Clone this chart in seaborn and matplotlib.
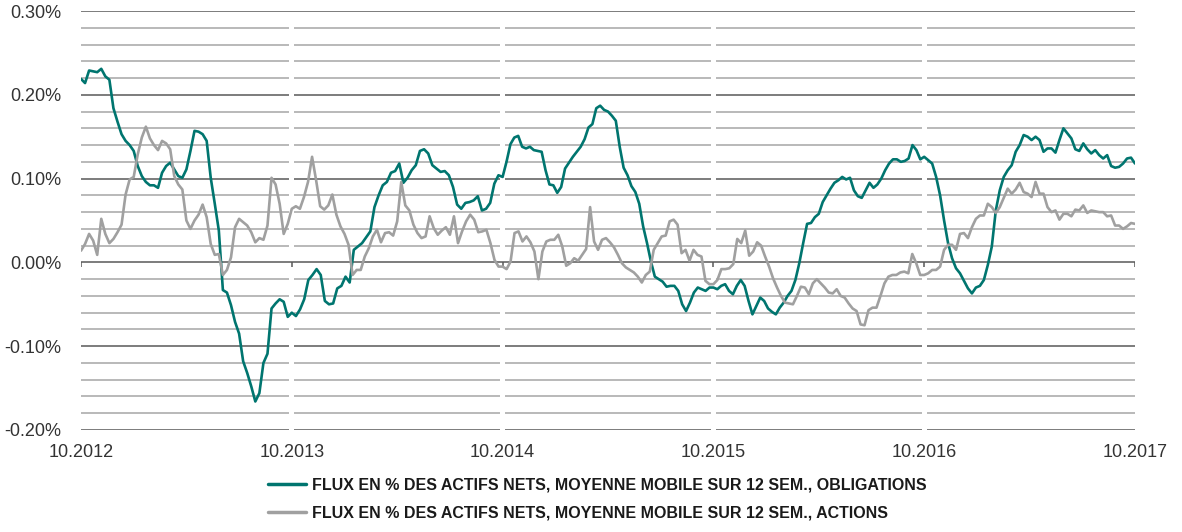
import numpy as np
import pandas as pd
import matplotlib
matplotlib.use("Agg")
import matplotlib.pyplot as plt
import seaborn as sns
from matplotlib.lines import Line2D

# weekly flows, % of net assets, 12-week moving average (one list per year from October)
oblig_y1 = [0.219, 0.214, 0.229, 0.228, 0.227, 0.231, 0.222, 0.218, 0.184, 0.168,
            0.153, 0.145, 0.140, 0.133, 0.115, 0.103, 0.096, 0.092, 0.092, 0.089,
            0.107, 0.115, 0.119, 0.111, 0.103, 0.101, 0.111, 0.133, 0.157, 0.156,
            0.153, 0.145, 0.101, 0.070, 0.038, -0.033, -0.036, -0.051, -0.071, -0.085,
            -0.118, -0.132, -0.148, -0.166, -0.156, -0.120, -0.109, -0.055, -0.049, -0.044,
            -0.047, -0.065]
oblig_y2 = [-0.060, -0.064, -0.056, -0.044, -0.021, -0.015, -0.008, -0.015, -0.046, -0.050,
            -0.049, -0.031, -0.028, -0.017, -0.024, 0.015, 0.019, 0.023, 0.030, 0.037,
            0.066, 0.080, 0.092, 0.096, 0.107, 0.109, 0.118, 0.095, 0.101, 0.110,
            0.116, 0.133, 0.135, 0.130, 0.116, 0.112, 0.108, 0.109, 0.104, 0.090,
            0.069, 0.064, 0.071, 0.072, 0.074, 0.079, 0.062, 0.064, 0.071, 0.094,
            0.104]
oblig_y3 = [0.102, 0.120, 0.141, 0.149, 0.151, 0.138, 0.136, 0.138, 0.134, 0.133,
            0.132, 0.110, 0.093, 0.092, 0.083, 0.090, 0.112, 0.119, 0.126, 0.132,
            0.138, 0.147, 0.161, 0.165, 0.184, 0.187, 0.182, 0.180, 0.175, 0.169,
            0.138, 0.113, 0.104, 0.091, 0.084, 0.070, 0.043, 0.023, 0.001, -0.017,
            -0.020, -0.023, -0.029, -0.028, -0.028, -0.034, -0.050, -0.058, -0.048, -0.036,
            -0.030, -0.032, -0.034, -0.030]
oblig_y4 = [-0.030, -0.032, -0.028, -0.026, -0.034, -0.038, -0.028, -0.021, -0.028, -0.046,
            -0.062, -0.052, -0.042, -0.046, -0.055, -0.059, -0.062, -0.054, -0.048, -0.040,
            -0.034, -0.021, -0.001, 0.023, 0.046, 0.047, 0.054, 0.058, 0.072, 0.080,
            0.088, 0.095, 0.098, 0.102, 0.099, 0.101, 0.086, 0.079, 0.077, 0.086,
            0.095, 0.089, 0.093, 0.100, 0.110, 0.118, 0.123, 0.123, 0.120, 0.121,
            0.124, 0.140, 0.134, 0.123]
oblig_y5 = [0.126, 0.122, 0.118, 0.102, 0.080, 0.050, 0.023, 0.005, -0.007, -0.013,
            -0.022, -0.031, -0.037, -0.030, -0.028, -0.021, -0.003, 0.019, 0.062, 0.086,
            0.102, 0.110, 0.116, 0.132, 0.140, 0.152, 0.150, 0.146, 0.150, 0.146,
            0.132, 0.136, 0.136, 0.131, 0.146, 0.160, 0.154, 0.148, 0.135, 0.133,
            0.142, 0.135, 0.130, 0.134, 0.128, 0.124, 0.128, 0.115, 0.113, 0.114,
            0.118, 0.124, 0.125, 0.118]

actions_y1 = [0.014, 0.022, 0.034, 0.026, 0.009, 0.052, 0.034, 0.023, 0.028, 0.036,
              0.045, 0.081, 0.099, 0.102, 0.129, 0.149, 0.162, 0.148, 0.140, 0.134,
              0.145, 0.142, 0.135, 0.103, 0.093, 0.087, 0.050, 0.040, 0.050, 0.057,
              0.069, 0.054, 0.022, 0.009, 0.010, -0.015, -0.009, 0.006, 0.042, 0.052,
              0.048, 0.044, 0.036, 0.024, 0.029, 0.027, 0.044, 0.101, 0.093, 0.070,
              0.034, 0.046]
actions_y2 = [0.064, 0.067, 0.064, 0.078, 0.096, 0.126, 0.098, 0.067, 0.063, 0.068,
              0.081, 0.057, 0.043, 0.034, 0.021, -0.015, -0.009, -0.009, 0.007, 0.017,
              0.031, 0.039, 0.024, 0.035, 0.036, 0.032, 0.049, 0.096, 0.068, 0.062,
              0.045, 0.035, 0.029, 0.031, 0.055, 0.041, 0.033, 0.038, 0.042, 0.033,
              0.055, 0.023, 0.037, 0.049, 0.057, 0.051, 0.036, 0.037, 0.039, 0.023,
              0.003, -0.005]
actions_y3 = [-0.005, -0.008, 0.001, 0.035, 0.037, 0.025, 0.031, 0.024, 0.013, -0.020,
              0.013, 0.025, 0.027, 0.027, 0.033, 0.019, -0.004, -0.001, 0.005, 0.002,
              0.009, 0.016, 0.066, 0.025, 0.015, 0.027, 0.029, 0.024, 0.018, 0.009,
              -0.001, -0.006, -0.009, -0.012, -0.017, -0.024, -0.015, -0.011, 0.015, 0.023,
              0.031, 0.032, 0.049, 0.051, 0.045, 0.011, 0.015, 0.002, 0.015, 0.009,
              0.007, -0.022, -0.026]
actions_y4 = [-0.026, -0.021, -0.008, -0.008, -0.007, -0.002, 0.028, 0.023, 0.038, 0.008,
              0.013, 0.024, 0.020, 0.007, -0.005, -0.019, -0.030, -0.040, -0.048, -0.049,
              -0.050, -0.040, -0.029, -0.030, -0.038, -0.025, -0.020, -0.025, -0.030, -0.036,
              -0.037, -0.032, -0.040, -0.042, -0.049, -0.055, -0.058, -0.074, -0.075, -0.057,
              -0.054, -0.054, -0.040, -0.025, -0.017, -0.015, -0.015, -0.012, -0.011, -0.013,
              0.010, -0.001, -0.015]
actions_y5 = [-0.015, -0.013, -0.009, -0.009, -0.005, 0.015, 0.021, 0.021, 0.015, 0.034,
              0.035, 0.029, 0.042, 0.052, 0.056, 0.056, 0.070, 0.066, 0.059, 0.066,
              0.077, 0.088, 0.082, 0.087, 0.095, 0.084, 0.082, 0.078, 0.096, 0.082,
              0.082, 0.066, 0.060, 0.062, 0.051, 0.058, 0.058, 0.055, 0.063, 0.062,
              0.068, 0.059, 0.062, 0.061, 0.060, 0.060, 0.055, 0.056, 0.044, 0.044,
              0.040, 0.043, 0.047, 0.046]

year_labels = ["10.2012", "10.2013", "10.2014", "10.2015", "10.2016", "10.2017"]
y_ticks = [-0.20, -0.10, 0.00, 0.10, 0.20, 0.30]
series_names = [
    "FLUX EN % DES ACTIFS NETS, MOYENNE MOBILE SUR 12 SEM., OBLIGATIONS",
    "FLUX EN % DES ACTIFS NETS, MOYENNE MOBILE SUR 12 SEM., ACTIONS",
]
colors = ["#00756f", "#a0a0a0"]


def year_positions(chunks):
    # spread each October-to-October chunk evenly over its year
    xs = []
    for k, vals in enumerate(chunks):
        n = len(vals)
        if k == len(chunks) - 1:
            xs.append(k + np.arange(n) / (n - 1))
        else:
            xs.append(k + np.arange(n) / n)
    return np.concatenate(xs)


oblig = [oblig_y1, oblig_y2, oblig_y3, oblig_y4, oblig_y5]
actions = [actions_y1, actions_y2, actions_y3, actions_y4, actions_y5]

df = pd.concat([
    pd.DataFrame({"t": year_positions(oblig), "flux": np.concatenate(oblig), "serie": series_names[0]}),
    pd.DataFrame({"t": year_positions(actions), "flux": np.concatenate(actions), "serie": series_names[1]}),
])

sns.set_theme(style="white")
plt.rcParams["font.family"] = ["Liberation Sans", "DejaVu Sans"]

fig, ax = plt.subplots(figsize=(11.82, 5.32), dpi=100)
fig.subplots_adjust(left=81 / 1182, right=1135 / 1182, top=1 - 11 / 532, bottom=1 - 430 / 532)

# broken horizontal gridlines, Excel style
gap = 2.5 / 211
n_years = len(year_labels) - 1
for lev in np.round(np.arange(-0.20, 0.30, 0.02), 2):
    if abs(lev) < 1e-9:
        continue
    major = abs(round(lev * 10) - lev * 10) < 1e-6
    col = "#595959" if major else "#a6a6a6"
    for k in range(n_years):
        x0 = k if k == 0 else k + gap
        x1 = k + 1 if k == n_years - 1 else k + 1 - gap
        ax.hlines(lev, x0, x1, color=col, lw=1.1, zorder=0)
ax.hlines(0.30, 0, n_years, color="#595959", lw=1.1, zorder=0)
ax.hlines(0.0, 0, n_years, color="#595959", lw=1.1, zorder=1)
ax.vlines(range(n_years + 1), -0.005, 0.0, color="#595959", lw=1.1, zorder=1)

sns.lineplot(data=df, x="t", y="flux", hue="serie", hue_order=series_names,
             palette=colors, linewidth=1.9, ax=ax, legend=False, zorder=3)

ax.set_xlim(0, n_years)
ax.set_ylim(-0.20, 0.30)
ax.set_xticks(range(n_years + 1))
ax.set_xticklabels(year_labels)
ax.set_yticks(y_ticks)
ax.set_yticklabels([f"{v:.2f}%" for v in y_ticks])
ax.tick_params(axis="both", length=0, labelsize=13, colors="#333333")
ax.tick_params(axis="x", pad=10)
ax.tick_params(axis="y", pad=14)
ax.set_xlabel("")
ax.set_ylabel("")
for s in ax.spines.values():
    s.set_visible(False)

handles = [Line2D([0], [0], color=c, lw=2.5) for c in colors]
leg = fig.legend(handles, series_names, loc="upper center", bbox_to_anchor=(0.505, 0.13),
                 frameon=False, handlelength=2.4, handletextpad=0.35,
                 labelspacing=0.85,
                 prop={"family": ["Liberation Sans", "DejaVu Sans"],
                       "weight": "bold", "size": 11.5})
for t in leg.get_texts():
    t.set_color("#1a1a1a")

fig.savefig("out.png", dpi=100)
